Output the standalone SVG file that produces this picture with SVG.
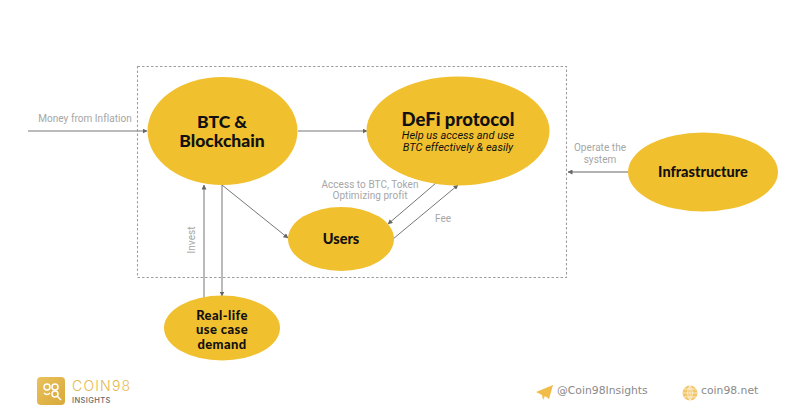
<svg xmlns="http://www.w3.org/2000/svg" width="800" height="418" viewBox="0 0 800 418">
<defs>
<marker id="a" markerWidth="5" markerHeight="5" refX="4.500" refY="2.500" orient="auto" markerUnits="userSpaceOnUse"><path d="M0 0L5 2.500L0 5Z" fill="#666"/></marker>
<linearGradient id="g" x1="0" y1="0" x2="1" y2="1"><stop offset="0" stop-color="#e9c15c"/><stop offset="1" stop-color="#d9a93a"/></linearGradient>
</defs>
<style>
.n{fill:#f1c02f}
.t{font-family:Lato,"Noto Sans",sans-serif;font-weight:900;fill:#111;text-anchor:middle}
.l{font-family:Roboto,"Noto Sans",sans-serif;font-size:10px;letter-spacing:.05px;fill:#a6a6a6;text-anchor:middle}
.c{fill:none;stroke:#777;stroke-width:1;marker-end:url(#a)}
.f{font-family:"DejaVu Sans",sans-serif;font-size:10.800px;fill:#8a8a8a}
.i{font-family:Roboto,sans-serif;font-size:11px;font-style:italic;fill:#111;text-anchor:middle}
</style>
<rect width="800" height="418" fill="#fff"/>
<rect x="137.500" y="66.500" width="429" height="211" fill="none" stroke="#a0a0a0" stroke-width="1.100" stroke-dasharray="2.500 2"/>
<g id="connectors">
<path class="c" d="M28 131H147"/>
<path class="c" d="M298 131H367"/>
<path class="c" style="stroke:#999;stroke-width:1.500" d="M628 172H568"/>
<path class="c" d="M204 298V185"/>
<path class="c" d="M222 185V296"/>
<path class="c" d="M222 185L288 238"/>
<path class="c" d="M436 183L388 224"/>
<path class="c" d="M393 239L458 185"/>
<text class="l" x="85" y="122">Money from Inflation</text>
<text class="l" x="370" y="188">Access to BTC, Token</text>
<text class="l" x="370" y="199">Optimizing profit</text>
<text class="l" x="443" y="222">Fee</text>
<text class="l" x="600" y="151">Operate the</text>
<text class="l" x="600" y="163">system</text>
<text class="l" transform="translate(195 240) rotate(-90)">Invest</text>
</g>
<g id="btc"><ellipse class="n" cx="222.500" cy="131" rx="75" ry="54"/><text class="t" font-size="17.500" x="222" y="128">BTC &amp;</text><text class="t" font-size="17.500" x="222" y="147">Blockchain</text></g>
<g id="defi"><ellipse class="n" cx="458" cy="131" rx="91.500" ry="54.500"/><text class="t" font-size="18.500" x="458" y="126">DeFi protocol</text><text class="i" x="458" y="139">Help us access and use</text><text class="i" x="458" y="151">BTC effectively &amp; easily</text></g>
<g id="users"><ellipse class="n" cx="341" cy="239" rx="53" ry="32"/><text class="t" font-size="14.500" x="341" y="244">Users</text></g>
<g id="infrastructure"><ellipse class="n" cx="703" cy="172" rx="75" ry="39.500"/><text class="t" font-size="14.500" x="703" y="177">Infrastructure</text></g>
<g id="demand"><ellipse class="n" cx="222" cy="328" rx="58" ry="32.500"/><text class="t" font-size="13" letter-spacing="0.400" x="222" y="319.500">Real-life</text><text class="t" font-size="13" letter-spacing="0.400" x="222" y="334">use case</text><text class="t" font-size="13" letter-spacing="0.400" x="222" y="348.500">demand</text></g>
<g id="logo">
<rect x="37" y="377" width="28" height="28" rx="4" fill="url(#g)"/>
<circle cx="47" cy="387" r="3" fill="none" stroke="#fff" stroke-width="1.500"/><circle cx="55" cy="387" r="3" fill="none" stroke="#fff" stroke-width="1.500"/>
<path d="M44 393Q47 396 50 393" fill="none" stroke="#fff" stroke-width="1.500"/>
<circle cx="55" cy="394" r="3" fill="none" stroke="#fff" stroke-width="1.500"/><path d="M57 396L61 400" stroke="#fff" stroke-width="1.500"/>
<text x="72" y="391" font-family="Inter,sans-serif" font-size="14" font-weight="300" letter-spacing="1.200" fill="#e3b94f">COIN98</text>
<text x="72" y="402.500" font-family="Inter,sans-serif" font-size="7.500" font-weight="500" letter-spacing="0.400" fill="#666">INSIGHTS</text>
</g>
<g id="footer">
<path d="M536 392L553 385L549 399L545 396L543 400L542 395Z" fill="#f0bd4a"/>
<text class="f" x="557" y="394">@Coin98Insights</text>
<circle cx="690" cy="393" r="7.500" fill="#f4c66a"/>
<path d="M682.500 393H697.500M683.500 389H696.500M683.500 397H696.500M690 385.500V400.500M690 385.500Q685 393 690 400.500M690 385.500Q695 393 690 400.500" fill="none" stroke="#fff" stroke-width="0.600"/>
<text class="f" x="701" y="394">coin98.net</text>
</g>
</svg>
